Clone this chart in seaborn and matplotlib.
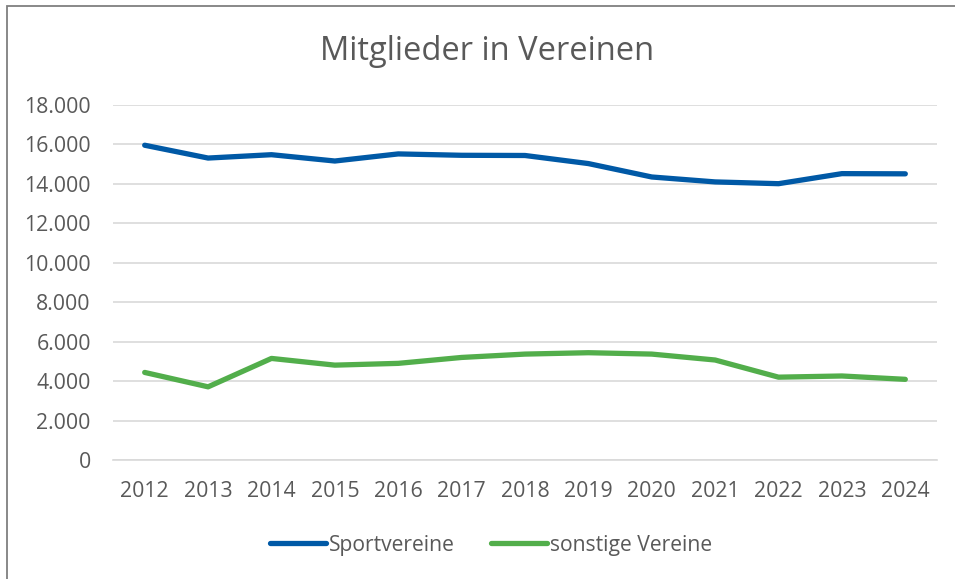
import matplotlib
matplotlib.use("Agg")
import matplotlib.pyplot as plt
import seaborn as sns
import pandas as pd
from matplotlib.ticker import FuncFormatter, FixedLocator
from matplotlib.patches import Rectangle

years = [2012, 2013, 2014, 2015, 2016, 2017, 2018, 2019, 2020, 2021, 2022, 2023, 2024]
sportvereine = [15960, 15310, 15480, 15160, 15520, 15450, 15440, 15030, 14350, 14100, 14010, 14520, 14510]
sonstige = [4440, 3710, 5150, 4810, 4900, 5200, 5370, 5440, 5370, 5070, 4200, 4260, 4090]
series_names = ["Sportvereine", "sonstige Vereine"]
colors = ["#0059A6", "#52AE4B"]
title = "Mitglieder in Vereinen"

df = pd.DataFrame({
    "Jahr": [str(y) for y in years] * 2,
    "Mitglieder": sportvereine + sonstige,
    "Reihe": [series_names[0]] * len(years) + [series_names[1]] * len(years),
})

sns.set_theme(style="white")
plt.rcParams["font.family"] = ["Open Sans", "DejaVu Sans"]

W, H = 955, 579
fig = plt.figure(figsize=(W / 100, H / 100), dpi=100)
ax = fig.add_axes([113 / W, 1 - 460 / H, (937 - 113) / W, (460 - 105) / H])

sns.lineplot(data=df, x="Jahr", y="Mitglieder", hue="Reihe", palette=colors,
             linewidth=3.8, ax=ax, sort=False, legend=True)
for line in ax.get_lines():
    line.set_solid_capstyle("round")
    line.set_solid_joinstyle("round")

ax.set_ylim(0, 18000)
ax.set_xlim(-0.5, len(years) - 0.5)
ax.yaxis.set_major_locator(FixedLocator(range(0, 18001, 2000)))
ax.yaxis.set_major_formatter(FuncFormatter(lambda v, p: f"{int(v):,}".replace(",", ".")))
ax.grid(axis="y", color="#D9D9D9", linewidth=1.2)
ax.set_axisbelow(True)
for s in ["top", "right", "left"]:
    ax.spines[s].set_visible(False)
ax.spines["bottom"].set_color("#D9D9D9")
ax.spines["bottom"].set_linewidth(1.2)
ax.tick_params(axis="both", length=0, labelsize=15.3, colors="#595959")
ax.tick_params(axis="x", pad=15)
ax.tick_params(axis="y", pad=16)
ax.set_xlabel("")
ax.set_ylabel("")

fig.text(487 / W, 1 - 52 / H, title, ha="center", va="center",
         fontsize=23.5, color="#595959")

leg = ax.legend(loc="center", bbox_to_anchor=((491 - 113) / 824, -(545 - 460) / 355), ncol=2,
                frameon=False, fontsize=15.2, handlelength=2.65, handletextpad=0.15,
                columnspacing=1.7)
for t in leg.get_texts():
    t.set_color("#595959")
for h in leg.get_lines():
    h.set_linewidth(3.8)
    h.set_solid_capstyle("round")

fig.patches.append(Rectangle((7 / W, -0.05), 1.2, 1 - 6 / H + 0.05,
                             transform=fig.transFigure, fill=False,
                             edgecolor="#7F7F7F", linewidth=1.3))

fig.savefig("out.png", dpi=100)
